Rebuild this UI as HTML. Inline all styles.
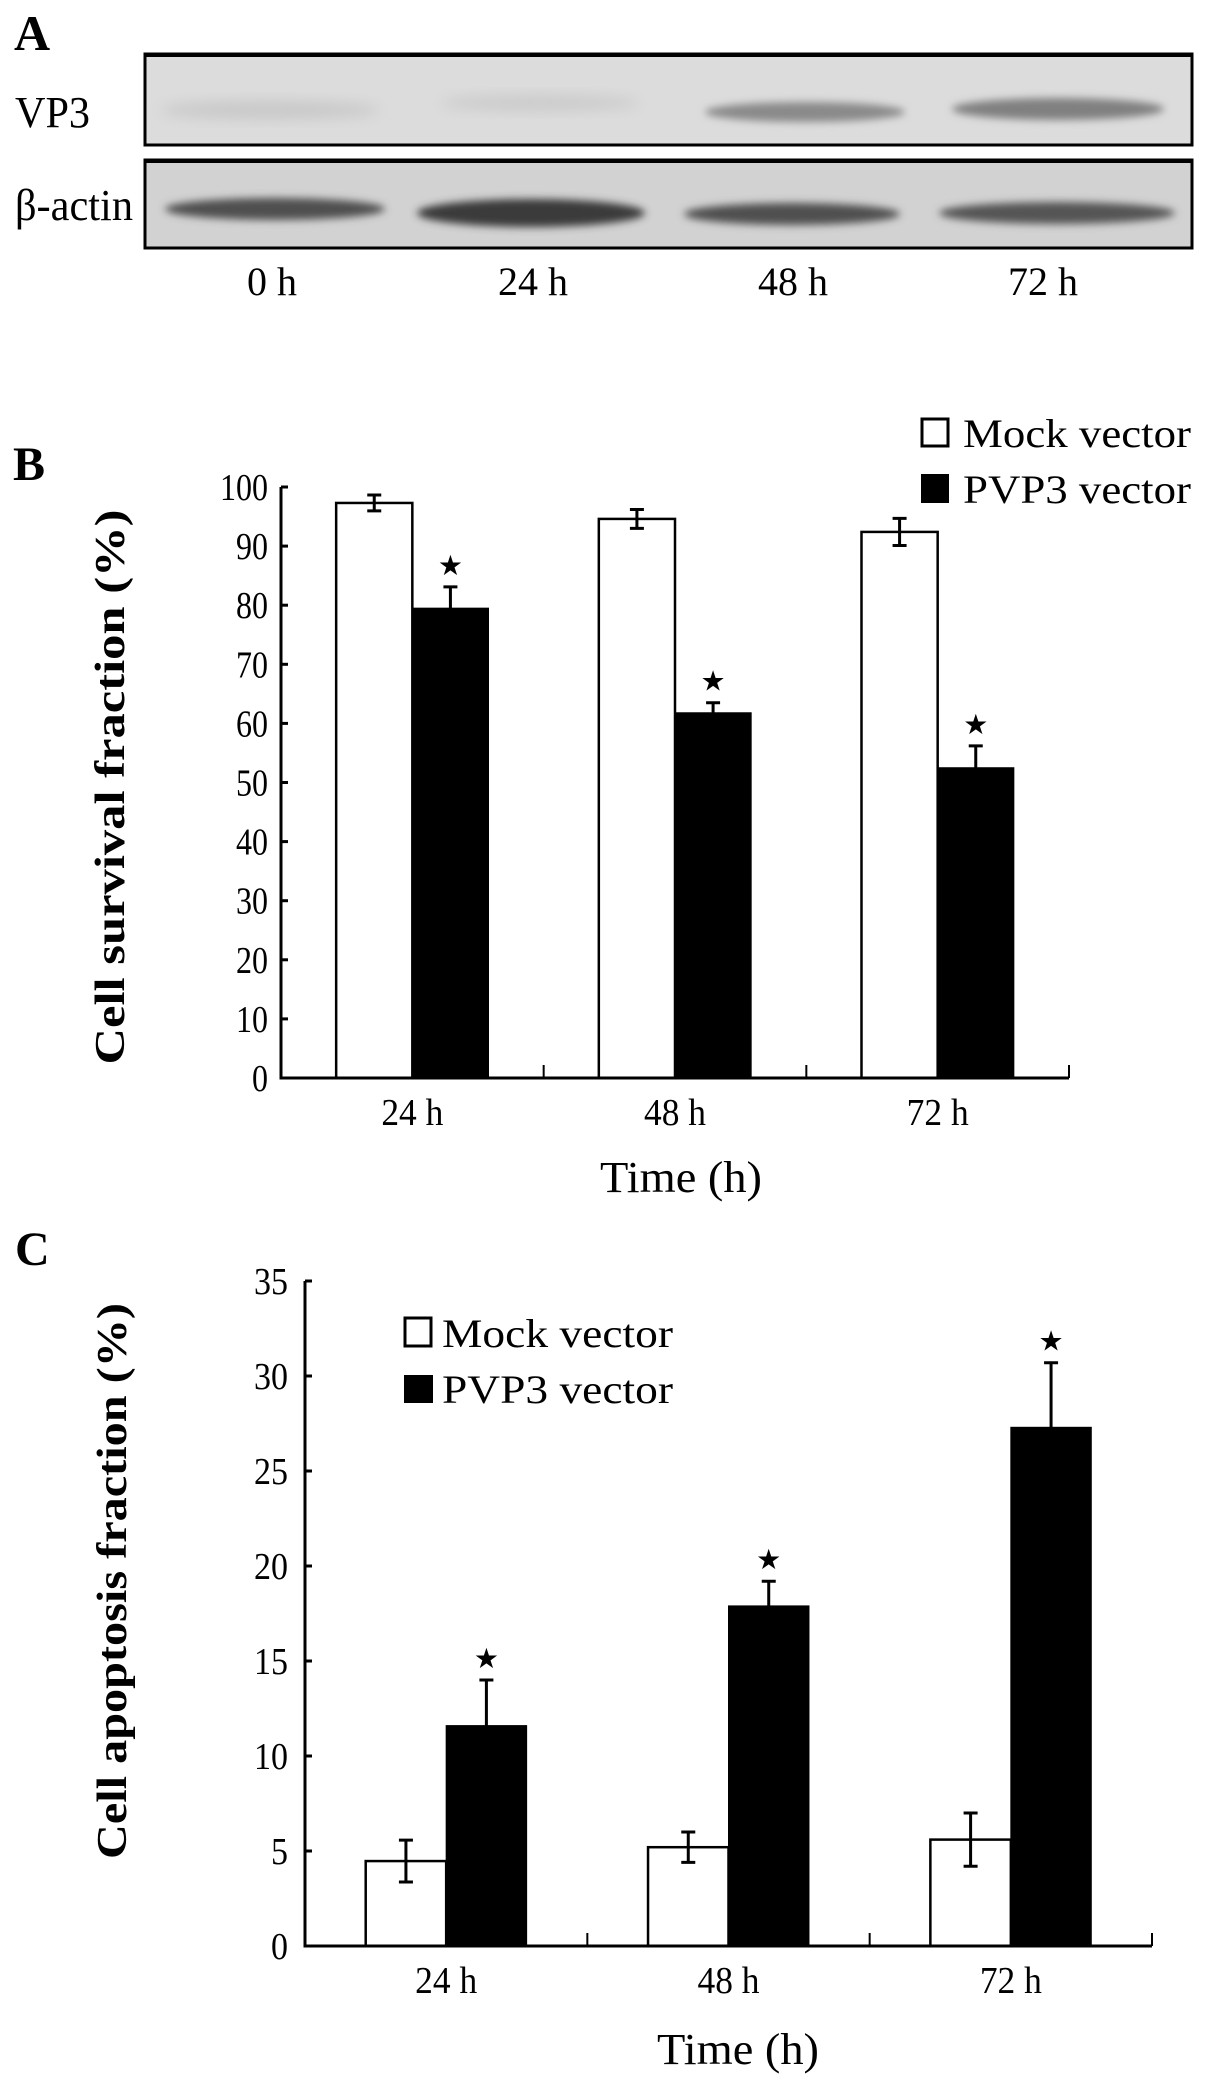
<!DOCTYPE html>
<html><head><meta charset="utf-8"><style>
html,body{margin:0;padding:0;background:#fff;}
svg{display:block;}
.serif{font-family:"Liberation Serif","DejaVu Serif",serif;}
</style></head>
<body>
<svg id="fig" width="1205" height="2092" viewBox="0 0 1205 2092" xmlns="http://www.w3.org/2000/svg">
<defs>
<filter id="blur" x="-20%" y="-50%" width="140%" height="200%"><feGaussianBlur stdDeviation="4"/></filter>
<filter id="blur2" x="-20%" y="-50%" width="140%" height="200%"><feGaussianBlur stdDeviation="7"/></filter>
</defs>
<!-- Panel A -->
<g>
<text class="serif" x="14" y="50" font-size="50" font-weight="bold">A</text>
<text class="serif" x="15" y="127" font-size="44" textLength="75" lengthAdjust="spacingAndGlyphs">VP3</text>
<text class="serif" x="15" y="220" font-size="44" textLength="118" lengthAdjust="spacingAndGlyphs">β-actin</text>
<g>
<rect x="146" y="55" width="1045" height="90" fill="#dcdcdc"/>
<ellipse cx="270" cy="110" rx="110" ry="9" fill="#c8c8c8" filter="url(#blur2)"/>
<ellipse cx="540" cy="103" rx="100" ry="8" fill="#cacaca" filter="url(#blur2)"/>
<ellipse cx="805" cy="112" rx="100" ry="10" fill="#8a8a8a" filter="url(#blur)"/>
<ellipse cx="1058" cy="109" rx="106" ry="11" fill="#808080" filter="url(#blur)"/>
<rect x="145" y="54" width="1047" height="91" fill="none" stroke="#000" stroke-width="3"/>
<line x1="144" y1="55" x2="1193" y2="55" stroke="#000" stroke-width="4"/>
</g>
<g>
<rect x="146" y="161" width="1045" height="87" fill="#d2d2d2"/>
<ellipse cx="275" cy="209" rx="110" ry="11" fill="#505050" filter="url(#blur)"/>
<ellipse cx="531" cy="213" rx="114" ry="14" fill="#3a3a3a" filter="url(#blur)"/>
<ellipse cx="792" cy="214" rx="108" ry="11" fill="#505050" filter="url(#blur)"/>
<ellipse cx="1057" cy="213" rx="118" ry="11" fill="#555" filter="url(#blur)"/>
<rect x="145" y="160" width="1047" height="88" fill="none" stroke="#000" stroke-width="3"/>
<line x1="144" y1="161" x2="1193" y2="161" stroke="#000" stroke-width="4"/>
</g>
<text class="serif" x="272" y="295" font-size="40" text-anchor="middle">0 h</text>
<text class="serif" x="533" y="295" font-size="40" text-anchor="middle">24 h</text>
<text class="serif" x="793" y="295" font-size="40" text-anchor="middle">48 h</text>
<text class="serif" x="1043" y="295" font-size="40" text-anchor="middle">72 h</text>
</g>
<!-- Panel B -->
<g id="panelB">
<text class="serif" x="13" y="480" font-size="48" font-weight="bold">B</text>
<text class="serif" transform="translate(124,787) rotate(-90)" font-size="42" font-weight="bold" text-anchor="middle" textLength="555" lengthAdjust="spacingAndGlyphs">Cell  survival fraction (%)</text>
<text class="serif" x="681" y="1192" font-size="44" text-anchor="middle" textLength="162" lengthAdjust="spacingAndGlyphs">Time (h)</text>
<g>
<rect x="922" y="419" width="26" height="27" fill="#fff" stroke="#000" stroke-width="3"/>
<text class="serif" x="963" y="447" font-size="40" textLength="228" lengthAdjust="spacingAndGlyphs">Mock vector</text>
<rect x="921" y="474" width="28" height="29" fill="#000"/>
<text class="serif" x="963" y="503" font-size="40" textLength="228" lengthAdjust="spacingAndGlyphs">PVP3 vector</text>
</g>
</g>
<!-- Panel C -->
<g id="panelC">
<text class="serif" x="15" y="1265" font-size="48" font-weight="bold">C</text>
<text class="serif" transform="translate(126,1581) rotate(-90)" font-size="42" font-weight="bold" text-anchor="middle" textLength="556" lengthAdjust="spacingAndGlyphs">Cell apoptosis fraction  (%)</text>
<text class="serif" x="738" y="2064" font-size="44" text-anchor="middle" textLength="162" lengthAdjust="spacingAndGlyphs">Time (h)</text>
<g>
<rect x="405" y="1318" width="26" height="28" fill="#fff" stroke="#000" stroke-width="3"/>
<text class="serif" x="442" y="1347" font-size="40" textLength="231" lengthAdjust="spacingAndGlyphs">Mock vector</text>
<rect x="404" y="1375" width="29" height="28" fill="#000"/>
<text class="serif" x="442" y="1403" font-size="40" textLength="231" lengthAdjust="spacingAndGlyphs">PVP3 vector</text>
</g>
</g>
</svg>
<script>
// Panel B data
const bCategories = ["24 h", "48 h", "72 h"];
const bMock = [97.3, 94.6, 92.4];
const bMockErr = [1.35, 1.6, 2.3];
const bPvp3 = [79.5, 61.8, 52.5];
const bPvp3Err = [3.6, 1.7, 3.7];
const bTicks = [0, 10, 20, 30, 40, 50, 60, 70, 80, 90, 100];
// Panel C data
const cCategories = ["24 h", "48 h", "72 h"];
const cMock = [4.47, 5.2, 5.6];
const cMockErr = [1.1, 0.8, 1.4];
const cPvp3 = [11.6, 17.9, 27.3];
const cPvp3Err = [2.4, 1.3, 3.4];
const cTicks = [0, 5, 10, 15, 20, 25, 30, 35];

const NS = "http://www.w3.org/2000/svg";
function mk(parent, tag, attrs) {
  const e = document.createElementNS(NS, tag);
  for (const k in attrs) e.setAttribute(k, attrs[k]);
  parent.appendChild(e);
  return e;
}

function drawChart(cfg) {
  const g = document.getElementById(cfg.id);
  const y = v => cfg.y0 - (v - cfg.vmin) / (cfg.vmax - cfg.vmin) * (cfg.y0 - cfg.yTop);
  const n = cfg.cats.length;
  const gw = (cfg.xEnd - cfg.xAxis) / n;
  const bw = gw * cfg.barFrac;
  const cx = i => cfg.xAxis + gw * (i + 0.5) + cfg.shift;

  for (let i = 0; i < n; i++) {
    const xm = cx(i) - bw;
    const mock = mk(g, "rect", {x: xm, y: y(cfg.mock[i]), width: bw, height: cfg.y0 - y(cfg.mock[i]), fill: "#fff", stroke: "#000", "stroke-width": 2.5});
    
    
    const pv = mk(g, "rect", {x: cx(i), y: y(cfg.pvp[i]), width: bw, height: cfg.y0 - y(cfg.pvp[i]), fill: "#000", stroke: "#000", "stroke-width": 1});
    
    
    const mx = xm + bw / 2;
    const eb = mk(g, "path", {d: `M${mx},${y(cfg.mock[i]+cfg.mockErr[i])}V${y(cfg.mock[i]-cfg.mockErr[i])}M${mx-7},${y(cfg.mock[i]+cfg.mockErr[i])}h14M${mx-7},${y(cfg.mock[i]-cfg.mockErr[i])}h14`, stroke: "#000", "stroke-width": 3, fill: "none"});
    
    
    const px = cx(i) + bw / 2;
    const ep = mk(g, "path", {d: `M${px},${y(cfg.pvp[i]+cfg.pvpErr[i])}V${y(cfg.pvp[i])}M${px-7},${y(cfg.pvp[i]+cfg.pvpErr[i])}h14`, stroke: "#000", "stroke-width": 3, fill: "none"});
    
    
    const st = mk(g, "text", {x: px, y: y(cfg.pvp[i]+cfg.pvpErr[i]) - 12, "font-size": 28, "text-anchor": "middle", "font-family": "DejaVu Sans, sans-serif"});
    st.textContent = "★";
    
    
    const cl = mk(g, "text", {x: cx(i), y: cfg.catY, "font-size": 38, "text-anchor": "middle", "font-family": "Liberation Serif, serif", textLength: 62, lengthAdjust: "spacingAndGlyphs"});
    cl.textContent = cfg.cats[i];
    
    
  }
  const ax = mk(g, "path", {d: `M${cfg.xAxis},${cfg.yTop}V${cfg.y0}H${cfg.xEnd}`, stroke: "#000", "stroke-width": 3, fill: "none"});
  
  
  for (let i = 1; i <= n; i++) {
    const tx = cfg.xAxis + gw * i;
    const t = mk(g, "line", {x1: tx, x2: tx, y1: cfg.y0, y2: cfg.y0 - 13, stroke: "#000", "stroke-width": 2});
    
    
  }
  cfg.ticks.forEach(v => {
    const t = mk(g, "line", {x1: cfg.xAxis, x2: cfg.xAxis + 7, y1: y(v), y2: y(v), stroke: "#000", "stroke-width": 3});
    
    
    const s = String(v);
    const lb = mk(g, "text", {x: cfg.labelRight, y: y(v) + 13, "font-size": 38, "text-anchor": "end", "font-family": "Liberation Serif, serif", textLength: s.length * cfg.digitW, lengthAdjust: "spacingAndGlyphs"});
    lb.textContent = s;
    
    
  });
}

drawChart({id: "panelB", cats: bCategories, mock: bMock, mockErr: bMockErr, pvp: bPvp3, pvpErr: bPvp3Err, ticks: bTicks,
  vmin: 0, vmax: 100, y0: 1078, yTop: 487, xAxis: 281, xEnd: 1069, barFrac: 0.29, shift: 0, catY: 1125, labelRight: 268, digitW: 16});
drawChart({id: "panelC", cats: cCategories, mock: cMock, mockErr: cMockErr, pvp: cPvp3, pvpErr: cPvp3Err, ticks: cTicks,
  vmin: 0, vmax: 35, y0: 1946, yTop: 1281, xAxis: 305, xEnd: 1152, barFrac: 0.285, shift: 0, catY: 1993, labelRight: 288, digitW: 17});
</script>
</body></html>
